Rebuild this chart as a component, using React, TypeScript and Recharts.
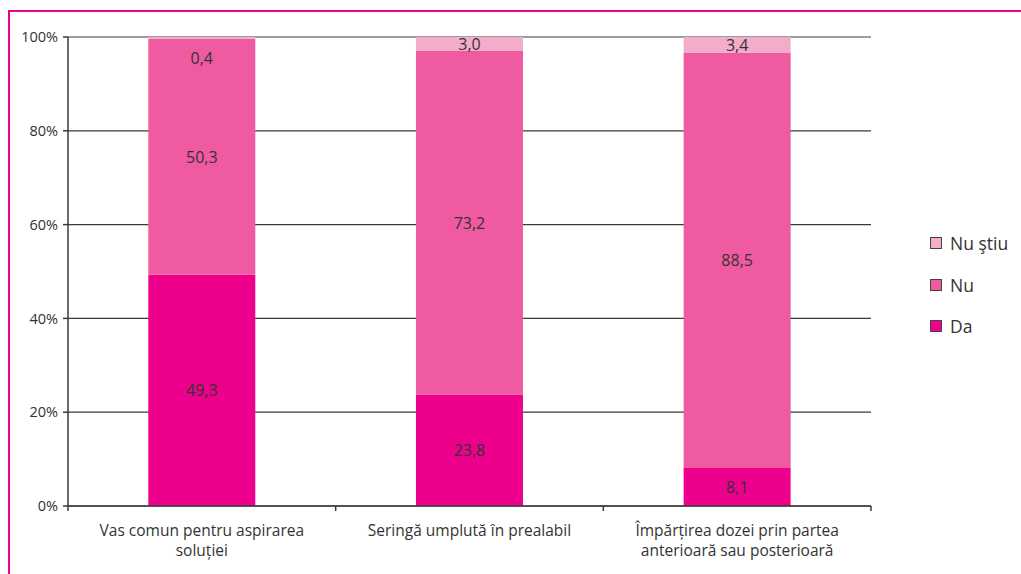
import React from "react";
import { BarChart, Bar, XAxis, YAxis, CartesianGrid, LabelList } from "recharts";

const categories = [
  "Vas comun pentru aspirarea\nsoluției",
  "Seringă umplută în prealabil",
  "Împărțirea dozei prin partea\nanterioară sau posterioară",
];
const daValues = [49.3, 23.8, 8.1];
const nuValues = [50.3, 73.2, 88.5];
const nuStiuValues = [0.4, 3.0, 3.4];
const yTicks = [0, 20, 40, 60, 80, 100];

const seriesMeta = [
  { key: "da", name: "Da", color: "#EC008C" },
  { key: "nu", name: "Nu", color: "#EF5AA0" },
  { key: "nuStiu", name: "Nu ştiu", color: "#F4ACCB" },
];

const data = categories.map((c, i) => ({
  name: c,
  da: daValues[i],
  nu: nuValues[i],
  nuStiu: nuStiuValues[i],
}));

const FONT = "'Open Sans', 'DejaVu Sans', sans-serif";
const TEXT = "#333333";
const AXIS = "#3a3a3a";

const fmt = (v: number) => v.toFixed(1).replace(".", ",");

const SegLabel = (props: any) => {
  const { x, y, width, height, value } = props;
  const small = height < 10;
  const cy = small ? y + height + 19 : y + height / 2;
  return (
    <text
      x={x + width / 2}
      y={cy}
      textAnchor="middle"
      dominantBaseline="central"
      fontFamily={FONT}
      fontSize={16}
      fill={TEXT}
    >
      {fmt(value)}
    </text>
  );
};

const XTick = (props: any) => {
  const { x, y, payload, width, visibleTicksCount, index } = props;
  const band = width / visibleTicksCount;
  const lines = String(payload.value).split("\n");
  return (
    <g>
      <line x1={x - band / 2} x2={x - band / 2} y1={y - 8} y2={y - 3} stroke={AXIS} strokeWidth={1.5} />
      {index === visibleTicksCount - 1 && (
        <line x1={x + band / 2} x2={x + band / 2} y1={y - 8} y2={y - 3} stroke={AXIS} strokeWidth={1.5} />
      )}
      {lines.map((l, i) => (
        <text
          key={i}
          x={x}
          y={y + 16 + i * 20}
          textAnchor="middle"
          dominantBaseline="central"
          fontFamily={FONT}
          fontSize={15.5}
          fill={TEXT}
        >
          {l}
        </text>
      ))}
    </g>
  );
};

export default function App() {
  const legendItems = [...seriesMeta].reverse();
  return (
    <div
      style={{
        position: "absolute",
        left: 0,
        top: 0,
        width: 1021,
        height: 574,
        overflow: "hidden",
        background: "#fff",
      }}
    >
      <div
        style={{
          position: "absolute",
          left: 8,
          top: 10,
          width: 1100,
          height: 700,
          border: "2.5px solid #EC008C",
          boxSizing: "border-box",
        }}
      />
      <div style={{ position: "absolute", left: 0, top: 0 }}>
        <BarChart
          width={1021}
          height={574}
          data={data}
          margin={{ top: 37, right: 150, bottom: 18, left: 8 }}
          barCategoryGap="30%"
        >
          <CartesianGrid horizontal vertical={false} stroke={AXIS} strokeWidth={1.2} />
          <XAxis
            dataKey="name"
            height={50}
            tickLine={false}
            axisLine={{ stroke: AXIS, strokeWidth: 1.5 }}
            tick={<XTick />}
            interval={0}
          />
          <YAxis
            width={60}
            domain={[0, 100]}
            ticks={yTicks}
            tickFormatter={(v: number) => `${v}%`}
            tick={{ fontFamily: FONT, fontSize: 14.5, fill: TEXT }}
            tickLine={{ stroke: AXIS, strokeWidth: 1.5 }}
            tickSize={5}
            tickMargin={5}
            axisLine={{ stroke: AXIS, strokeWidth: 1.5 }}
          />
          {seriesMeta.map((s) => (
            <Bar key={s.key} dataKey={s.key} name={s.name} stackId="a" fill={s.color} isAnimationActive={false}>
              <LabelList dataKey={s.key} content={<SegLabel />} />
            </Bar>
          ))}
        </BarChart>
      </div>
      {legendItems.map((s, i) => (
        <div
          key={s.key}
          style={{
            position: "absolute",
            left: 930,
            top: 232 + i * 41.5,
            display: "flex",
            alignItems: "center",
            fontFamily: FONT,
            fontSize: 17.5,
            color: TEXT,
            height: 22,
          }}
        >
          <span
            style={{
              display: "inline-block",
              width: 10,
              height: 10,
              background: s.color,
              border: "1px solid #444",
              marginRight: 8,
            }}
          />
          {s.name}
        </div>
      ))}
    </div>
  );
}
